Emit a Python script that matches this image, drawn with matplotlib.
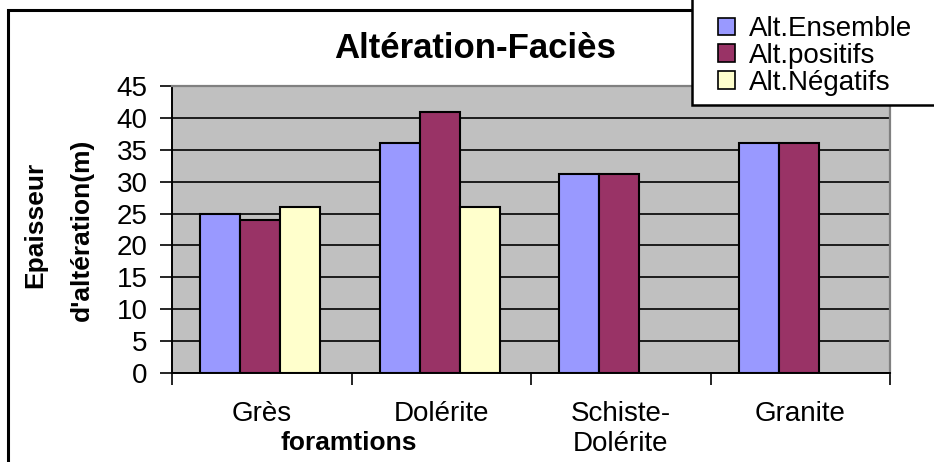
import numpy as np
import matplotlib
matplotlib.use('Agg')
import matplotlib.pyplot as plt
from matplotlib.patches import Rectangle

categories = ['Grès', 'Dolérite', 'Schiste-\nDolérite', 'Granite']
ensemble = [25, 36, 31.2, 36]
positifs = [24, 41, 31.2, 36]
negatifs = [26, 26, np.nan, np.nan]
series_names = ['Alt.Ensemble', 'Alt.positifs', 'Alt.Négatifs']
colors = ['#9999FF', '#993366', '#FFFFCC']
y_ticks = list(range(0, 50, 5))

plt.rcParams['font.family'] = ['Liberation Sans', 'DejaVu Sans']

W, H = 934, 462
fig = plt.figure(figsize=(W / 100, H / 100), dpi=100)
fig.patch.set_facecolor('white')

# outer chart frame (runs off the right and bottom edges)
fig.patches.append(Rectangle((8 / W, -0.1), 1.2, 1 - 10 / H + 0.1, transform=fig.transFigure,
                             fill=False, edgecolor='black', linewidth=2.2, zorder=0))

ax = fig.add_axes([172 / W, 1 - 373 / H, (890 - 172) / W, (373 - 86) / H])
ax.set_facecolor('#C0C0C0')

x = np.arange(len(categories))
w = 0.223
for i, (vals, name, c) in enumerate(zip([ensemble, positifs, negatifs], series_names, colors)):
    ax.bar(x - 0.5 + 0.1575 + w * (i + 0.5), vals, width=w, color=c, edgecolor='black',
           linewidth=1.5, label=name, zorder=3)

ax.set_xlim(-0.5, len(categories) - 0.5)
ax.set_ylim(0, 45)
ax.set_yticks(y_ticks)
ax.tick_params(axis='y', labelsize=20, length=8.5, width=1.2, direction='out', pad=9)
ax.yaxis.grid(True, color='black', linewidth=1.2, zorder=1)
ax.set_axisbelow(True)

ax.set_xticks(np.arange(-0.5, len(categories)))
ax.set_xticklabels([])
ax.tick_params(axis='x', length=8.5, width=1.2, direction='out')
for xi, lab in zip(x, categories):
    ax.text(xi, -28 / 287, lab, transform=ax.get_xaxis_transform(), ha='center', va='top',
            fontsize=20, linespacing=1.2)

for s in ['left', 'bottom']:
    ax.spines[s].set_color('black')
    ax.spines[s].set_linewidth(1.4)
for s in ['right', 'top']:
    ax.spines[s].set_color('#808080')
    ax.spines[s].set_linewidth(1.6)

fig.text(475 / W, 1 - 48 / H, 'Altération-Faciès', ha='center', va='center',
         fontsize=25, fontweight='bold')
fig.text(349 / W, 1 - 443 / H, 'foramtions', ha='center', va='center',
         fontsize=19, fontweight='bold')
fig.text(35 / W, 1 - 225 / H, 'Epaisseur', rotation=90, ha='center', va='center',
         fontsize=19, fontweight='bold')
fig.text(82 / W, 1 - 230 / H, "d'altération(m)", rotation=90, ha='center', va='center',
         fontsize=19, fontweight='bold')

# legend box drawn by hand, entries placed inside it
fig.patches.append(Rectangle((692 / W, 1 - 105 / H), 0.5, 0.5, transform=fig.transFigure,
                             facecolor='white', edgecolor='black', linewidth=1.8, zorder=5))
leg = fig.legend(loc='center left', bbox_to_anchor=(718 / W, 1 - 56 / H), fontsize=20,
                 frameon=False, handlelength=0.6, handleheight=0.6, handletextpad=0.5,
                 labelspacing=0.02, borderpad=0, borderaxespad=0)
leg.set_zorder(6)
for p in leg.get_patches():
    p.set_linewidth(1.2)

fig.savefig('out.png', dpi=100)
